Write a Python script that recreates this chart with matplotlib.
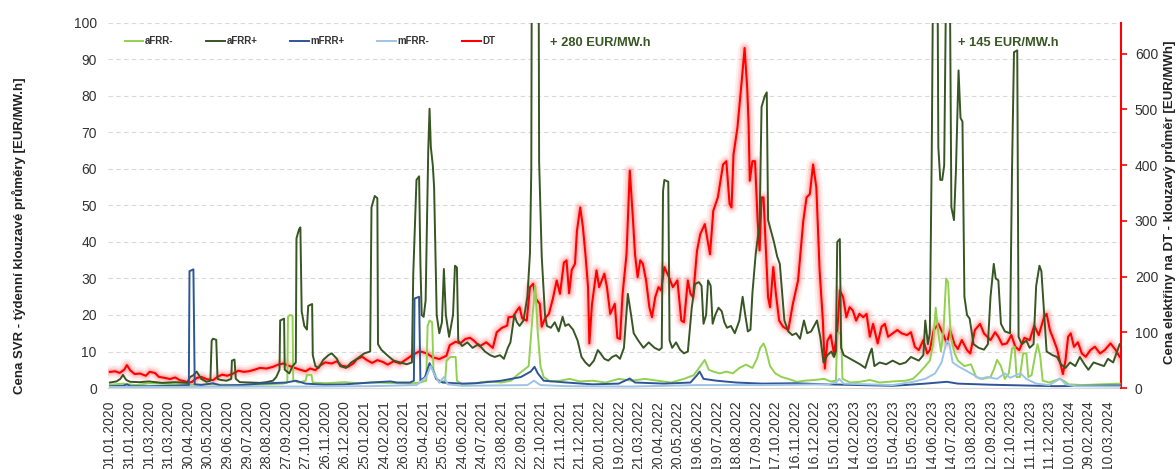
import matplotlib
matplotlib.use("Agg")
import matplotlib.pyplot as plt
import pandas as pd

plt.rcParams['font.family'] = ['Liberation Sans', 'DejaVu Sans']

# Days counted from 01.01.2020, values are weekly moving averages
afrr_minus_days = [0, 20, 40, 60, 90, 120, 150, 200, 240, 265, 272, 273, 276, 280, 281, 290, 300, 302, 309, 311,
                   330, 360, 380, 400, 430, 460, 475, 485, 487, 490, 494, 496, 500, 505, 514, 516, 522, 530, 532,
                   540, 560, 580, 600, 615, 624, 635, 642, 648, 652, 656, 660, 665, 675, 690, 705, 720, 740, 760,
                   780, 800, 820, 840, 860, 880, 895, 905, 912, 918, 925, 935, 945, 955, 965, 975, 985, 992, 997,
                   1002, 1005, 1012, 1020, 1030, 1040, 1053, 1065, 1080, 1095, 1105, 1113, 1115, 1121, 1123, 1135,
                   1150, 1165, 1180, 1200, 1220, 1231, 1240, 1250, 1257, 1262, 1266, 1270, 1274, 1278, 1282, 1285,
                   1289, 1295, 1300, 1310, 1320, 1328, 1338, 1350, 1355, 1360, 1366, 1372, 1378, 1383, 1387, 1390,
                   1395, 1400, 1405, 1408, 1413, 1418, 1422, 1426, 1430, 1434, 1440, 1456, 1462, 1470, 1490, 1520,
                   1548]
afrr_minus = [0.9, 1.2, 0.8, 1.3, 1.1, 0.9, 1.0, 0.8, 1.0, 1.2, 1.5, 19.5, 20.0, 19.8, 2.0, 1.5, 2.0, 3.6, 3.6, 1.5,
              1.3, 1.6, 1.3, 1.5, 1.4, 1.2, 1.5, 2.0, 17.0, 18.5, 18.0, 5.0, 3.0, 1.5, 2.0, 7.5, 8.5, 8.5, 2.0,
              1.0, 1.3, 1.8, 1.5, 2.0, 3.5, 5.0, 6.0, 20.0, 28.0, 15.0, 6.0, 3.0, 1.8, 2.0, 2.5, 1.8, 2.0, 1.5,
              2.5, 2.0, 2.5, 2.0, 1.5, 2.5, 3.5, 6.0, 7.7, 5.0, 4.5, 4.0, 4.5, 4.0, 5.5, 6.4, 5.5, 8.0, 11.0,
              12.2, 11.0, 6.0, 4.0, 3.0, 2.5, 1.7, 2.0, 2.2, 2.5, 1.8, 2.0, 15.0, 15.0, 2.5, 1.5,
              1.7, 2.2, 1.5, 1.8, 2.0, 2.5, 4.0, 6.0, 7.5, 12.0, 22.0, 15.0, 10.0, 16.0, 30.0, 29.0,
              14.0, 9.5, 7.5, 6.0, 6.5, 3.0, 2.5, 3.0, 5.0, 7.7, 6.0, 2.5, 4.0, 10.8, 11.3, 3.0,
              3.0, 9.5, 9.5, 3.0, 3.5, 8.5, 12.0, 9.0, 2.0, 1.8, 1.5, 2.5, 2.0, 1.0, 0.8, 1.0,
              1.2]

afrr_plus_days = [0, 10, 16, 20, 25, 31, 46, 60, 80, 100, 118, 123, 128, 133, 140, 148, 154, 156, 158, 163, 165, 170,
                  179, 186, 187, 191, 193, 199, 215, 230, 240, 250, 255, 260, 261, 267, 268, 275, 280, 285, 286,
                  290, 292, 294, 298, 302, 304, 310, 311, 315, 320, 327, 335, 340, 348, 353, 362, 370, 379, 390,
                  399, 401, 406, 410, 411, 416, 425, 435, 445, 455, 463, 465, 470, 474, 476, 478, 481, 484, 488,
                  490, 492, 495, 497, 501, 505, 509, 512, 515, 520, 526, 529, 532, 534, 540, 548, 556, 565, 575,
                  583, 590, 598, 604, 610, 614, 620, 624, 628, 634, 640, 644, 646, 649, 655, 658, 662, 667, 670,
                  676, 682, 688, 694, 698, 703, 710, 717, 723, 729, 735, 742, 748, 752, 758, 764, 770, 776, 782,
                  788, 794, 799, 803, 810, 818, 826, 835, 842, 846, 848, 850, 856, 858, 862, 868, 874, 880, 886,
                  892, 897, 903, 907, 910, 914, 917, 921, 924, 928, 933, 938, 942, 946, 952, 958, 965, 970, 974,
                  978, 982, 985, 990, 996, 999, 1004, 1007, 1009, 1012, 1018, 1023, 1027, 1034, 1040, 1046, 1052,
                  1058, 1064, 1069, 1075, 1081, 1084, 1089, 1094, 1100, 1106, 1110, 1113, 1115, 1119, 1121, 1125,
                  1130, 1140, 1150, 1158, 1165, 1168, 1172, 1180, 1190, 1200, 1211, 1220, 1228, 1234, 1240, 1247,
                  1250, 1254, 1257, 1260, 1263, 1268, 1270, 1273, 1276, 1279, 1283, 1287, 1290, 1294, 1297, 1301,
                  1304, 1307, 1310, 1314, 1318, 1324, 1332, 1340, 1346, 1350, 1355, 1358, 1362, 1366, 1372, 1380,
                  1383, 1386, 1391, 1393, 1398, 1405, 1410, 1416, 1420, 1425, 1428, 1432, 1436, 1445, 1452, 1458,
                  1465, 1472, 1480, 1487, 1494, 1500, 1508, 1516, 1524, 1530, 1538, 1544, 1548]
afrr_plus = [1.5, 1.8, 2.5, 3.6, 2.2, 1.7, 1.6, 1.8, 1.4, 1.6, 1.4, 3.0, 3.5, 4.5, 2.5, 1.7, 2.0, 13.0, 13.5, 13.2, 2.5, 2.2,
             2.0, 2.5, 7.5, 7.8, 2.5, 1.6, 1.5, 1.4, 1.6, 2.0, 3.0, 5.0, 18.5, 19.0, 5.0, 4.0, 6.0, 7.0, 41.0,
             43.5, 44.0, 21.0, 17.0, 16.0, 22.5, 23.0, 9.0, 6.0, 5.5, 7.7, 9.0, 9.5, 8.0, 6.0, 5.5, 7.0, 8.0, 9.5,
             10.0, 49.5, 52.6, 52.0, 12.0, 10.5, 9.0, 7.5, 7.0, 6.5, 7.0, 31.0, 57.0, 58.0, 34.0, 20.0, 19.5, 24.0, 65.0,
             76.5, 66.0, 61.0, 55.0, 20.0, 15.0, 18.0, 32.6, 20.0, 14.0, 20.0, 33.5, 33.0, 13.0, 11.5, 12.5, 11.0, 12.0, 10.0,
             9.0, 8.5, 9.0, 8.0, 11.0, 12.5, 20.0, 18.0, 17.0, 18.5, 25.0, 37.0, 60.0, 280.0, 280.0, 62.0, 36.0, 20.0, 17.0,
             16.5, 18.0, 15.5, 19.5, 17.0, 17.5, 16.0, 13.0, 8.5, 7.0, 6.0, 7.5, 10.4, 9.5, 8.0, 7.5, 8.5, 9.0, 8.0,
             11.0, 25.8, 20.0, 15.0, 13.0, 11.0, 12.5, 11.0, 10.4, 11.0, 54.0, 57.0, 56.5, 13.0, 11.0, 12.5, 10.5, 9.5, 10.0,
             22.0, 28.5, 29.0, 28.0, 17.6, 20.0, 29.5, 28.0, 17.6, 20.0, 22.0, 21.0, 18.0, 16.5, 17.0, 15.0, 18.5, 25.0, 20.0,
             15.5, 16.0, 26.0, 36.7, 45.0, 77.0, 80.0, 81.0, 46.0, 44.0, 40.0, 36.0, 34.0, 18.5, 15.5, 14.5, 15.0,
             13.5, 18.5, 15.0, 15.5, 17.5, 18.5, 14.0, 7.0, 9.0, 10.0, 8.5, 10.0, 40.0, 40.8, 11.0, 9.0,
             8.5, 7.5, 6.5, 5.5, 9.5, 10.8, 6.0, 7.0, 6.5, 7.5, 6.5, 7.0, 8.5, 8.0, 7.5, 9.0,
             18.5, 12.0, 15.0, 66.0, 140.0, 145.0, 66.0, 57.0, 57.0, 61.0, 130.0, 130.0, 49.5, 46.0, 59.5, 87.0,
             74.0, 73.0, 25.0, 20.0, 19.0, 12.0, 11.0, 10.5, 12.0, 25.0, 34.0, 30.0, 29.5, 17.6, 15.5, 15.0,
             60.0, 92.0, 92.5, 14.0, 12.0, 13.0, 11.0, 12.0, 28.0, 33.5, 32.0, 21.0, 10.0, 9.0, 8.5, 6.5,
             5.5, 7.0, 6.0, 8.5, 6.5, 5.0, 7.0, 6.5, 6.0, 8.0, 7.0, 10.0, 12.0]

mfrr_plus_days = [0, 20, 26, 32, 60, 100, 121, 122, 128, 130, 140, 158, 170, 200, 230, 270, 285, 300, 330, 360, 400,
                  430, 440, 460, 466, 467, 474, 476, 483, 490, 495, 500, 510, 540, 560, 600, 630, 645, 651, 656, 665,
                  700, 740, 780, 797, 805, 850, 890, 900, 904, 910, 930, 960, 1000, 1050, 1100, 1150, 1200, 1250,
                  1283, 1300, 1350, 1400, 1450, 1500, 1548]
mfrr_plus = [0.5, 0.6, 1.0, 0.5, 0.5, 0.6, 0.8, 32.0, 32.5, 1.0, 0.8, 1.3, 0.7, 0.8, 1.2, 1.5, 2.0, 1.2, 0.9, 1.0, 1.5,
             1.8, 1.5, 1.5, 2.0, 24.5, 25.0, 2.0, 3.0, 6.8, 5.0, 2.5, 1.5, 1.2, 1.3, 2.0, 3.0, 4.5, 5.8, 4.0, 2.0,
             1.5, 1.0, 1.2, 2.6, 1.5, 1.2, 1.5, 3.5, 4.5, 2.5, 2.0, 1.5, 1.2, 1.3, 1.0, 0.8, 0.6, 1.2,
             1.7, 1.2, 0.9, 0.7, 0.5, 0.6, 0.7]

mfrr_minus_days = [0, 100, 200, 300, 400, 470, 485, 492, 498, 505, 512, 518, 540, 640, 650, 660, 700, 800, 900, 1000,
                   1100, 1113, 1118, 1125, 1200, 1231, 1250, 1265, 1275, 1283, 1287, 1292, 1300, 1310, 1325, 1334,
                   1345, 1360, 1372, 1380, 1396, 1405, 1420, 1440, 1457, 1465, 1480, 1548]
mfrr_minus = [0.3, 0.3, 0.4, 0.4, 0.5, 0.8, 3.0, 6.0, 3.5, 1.5, 3.0, 1.0, 0.6, 0.8, 2.0, 0.8, 0.5, 0.4, 0.8, 0.8,
              1.0, 1.5, 2.5, 1.2, 0.8, 1.7, 2.5, 4.0, 7.0, 13.0, 12.0, 7.0, 6.0, 5.0, 3.5, 2.5,
              3.0, 2.5, 4.0, 2.8, 4.0, 2.5, 1.2, 0.8, 2.6, 1.0, 0.5, 0.4]

dt_days = [0, 8, 15, 22, 26, 31, 38, 46, 55, 61, 69, 75, 85, 92, 100, 107, 115, 120, 126, 133, 140, 148, 158, 165,
           172, 180, 189, 197, 205, 213, 222, 230, 240, 250, 258, 266, 272, 281, 291, 300, 307, 315, 322, 330,
           340, 348, 355, 365, 373, 379, 387, 394, 402, 410, 418, 426, 435, 445, 455, 465, 475, 486, 495, 505,
           516, 521, 530, 537, 545, 552, 558, 567, 577, 587, 593, 601, 609, 611, 618, 624, 628, 632, 639, 644,
           649, 653, 659, 662, 667, 673, 679, 685, 690, 696, 700, 704, 708, 713, 716, 721, 725, 729, 733, 735,
           739, 746, 750, 754, 758, 762, 767, 774, 778, 782, 786, 792, 797, 802, 805, 809, 813, 817, 822, 827,
           831, 836, 841, 845, 850, 857, 863, 870, 876, 880, 886, 890, 894, 900, 905, 912, 920, 925, 932, 940,
           945, 950, 953, 956, 962, 969, 973, 977, 979, 981, 985, 989, 993, 996, 999, 1002, 1006, 1009, 1012,
           1017, 1021, 1026, 1032, 1040, 1047, 1055, 1063, 1068, 1073, 1078, 1083, 1088, 1093, 1096, 1100, 1105,
           1110, 1115, 1119, 1124, 1129, 1134, 1139, 1144, 1149, 1155, 1160, 1165, 1170, 1177, 1183, 1188, 1193,
           1200, 1207, 1214, 1222, 1228, 1234, 1240, 1247, 1253, 1257, 1263, 1270, 1277, 1283, 1288, 1295, 1300,
           1306, 1314, 1319, 1326, 1334, 1340, 1350, 1357, 1362, 1368, 1375, 1382, 1388, 1394, 1402, 1410, 1417,
           1424, 1432, 1436, 1441, 1447, 1452, 1457, 1461, 1465, 1469, 1473, 1478, 1484, 1490, 1496, 1503, 1510,
           1518, 1525, 1534, 1542, 1548]
dt_price = [29, 30, 27, 33, 41, 32, 25, 26, 22, 29, 27, 20, 18, 16, 19, 14, 12, 9, 11, 18, 20, 16, 14, 20,
            24, 22, 26, 31, 29, 30, 33, 36, 35, 38, 42, 44, 41, 37, 33, 30, 35, 32, 40, 46,
            44, 48, 40, 38, 44, 52, 56, 50, 45, 50, 47, 42, 48, 44, 52, 60, 66, 62, 55, 52,
            58, 77, 83, 80, 88, 90, 85, 75, 82, 72, 100, 108, 112, 127, 128, 139, 145, 125, 121, 181,
            187, 160, 151, 110, 125, 133, 160, 193, 169, 225, 229, 170, 212, 223, 282, 324, 290, 240, 181, 80,
            150, 211, 181, 193, 205, 181, 133, 151, 90, 88, 169, 240, 390, 300, 240, 199, 229, 223, 193, 145,
            127, 163, 181, 175, 217, 199, 181, 193, 121, 118, 193, 169, 163, 246, 276, 294, 240, 318, 342, 401,
            407, 330, 324, 419, 467, 556, 610, 538, 479, 372, 407, 407, 300, 247, 342, 342, 240, 163, 145,
            217, 169, 121, 110, 104, 151, 193, 300, 342, 348, 401, 360, 211, 121, 35, 85, 95,
            62, 100, 175, 163, 127, 145, 139, 121, 133, 127, 133, 92, 115, 80, 110, 115, 92,
            98, 104, 98, 95, 100, 74, 68, 86, 62, 68, 104, 115, 98, 80, 104, 78, 70,
            86, 68, 62, 104, 115, 98, 86, 100, 92, 78, 80, 95, 74, 68, 90, 86, 112,
            95, 127, 133, 104, 86, 70, 45, 25, 50, 92, 98, 74, 82, 62, 56, 68, 74,
            62, 68, 80, 68, 56]

# Category labels every 30 days, as in the source spreadsheet
tick_dates = pd.date_range("2020-01-01", "2024-03-10", freq="30D")
tick_days = [(d - tick_dates[0]).days for d in tick_dates]
tick_labels = [d.strftime("%d.%m.%Y") for d in tick_dates]

text_col = '#333333'
grid_col = '#d9d9d9'

fig = plt.figure(figsize=(11.76, 4.69), dpi=100)
rect = [0.0918, 0.1727, 0.8614, 0.7783]

# bottom layer: grid, left scale and dates
ax_grid = fig.add_axes(rect)
ax_grid.set_xlim(-3, 1550)
ax_grid.set_ylim(0, 100)
ax_grid.set_yticks(range(0, 101, 10))
ax_grid.yaxis.grid(True, color=grid_col, linestyle=(0, (4, 3)), linewidth=0.8)
ax_grid.set_xticks(tick_days)
ax_grid.set_xticklabels(tick_labels, rotation=90, fontsize=10, color=text_col)
ax_grid.tick_params(axis='x', length=0, pad=9)
ax_grid.tick_params(axis='y', length=0, pad=8, labelsize=10, labelcolor=text_col)
for side in ['top', 'left', 'right']:
    ax_grid.spines[side].set_visible(False)
ax_grid.spines['bottom'].set_color(grid_col)

# middle layer: DT price on the right scale, red with a soft pink glow
ax_dt = ax_grid.twinx()
ax_dt.set_zorder(1)
ax_dt.set_ylim(0, 655)
ax_dt.set_yticks(range(0, 601, 100))
ax_dt.plot(dt_days, dt_price, color='#ff8080', lw=9, alpha=0.13, solid_joinstyle='round')
ax_dt.plot(dt_days, dt_price, color='#ff7070', lw=6, alpha=0.18, solid_joinstyle='round')
ax_dt.plot(dt_days, dt_price, color='#ff5050', lw=3.5, alpha=0.22, solid_joinstyle='round')
dt_line, = ax_dt.plot(dt_days, dt_price, color='#ff0000', lw=1.5, label='DT')
ax_dt.tick_params(axis='y', colors='#ff0000', length=4, width=1.2, pad=6, labelsize=10, labelcolor=text_col)
for side in ['top', 'left', 'bottom']:
    ax_dt.spines[side].set_visible(False)
ax_dt.spines['right'].set_color('#ff0000')
ax_dt.spines['right'].set_linewidth(1.5)

# top layer: SVR prices on the left scale
ax = fig.add_axes(rect, sharex=ax_grid, sharey=ax_grid)
ax.set_zorder(2)
ax.patch.set_visible(False)
ax.axis('off')
l1, = ax.plot(afrr_minus_days, afrr_minus, color='#92d050', lw=1.4, label='aFRR-')
l2, = ax.plot(afrr_plus_days, afrr_plus, color='#375623', lw=1.4, label='aFRR+')
l3, = ax.plot(mfrr_plus_days, mfrr_plus, color='#2f5597', lw=1.4, label='mFRR+')
l4, = ax.plot(mfrr_minus_days, mfrr_minus, color='#9dc3e6', lw=1.4, label='mFRR-')

leg = ax.legend(handles=[l1, l2, l3, l4, dt_line], ncol=5, frameon=False,
                loc='upper left', bbox_to_anchor=(125 / 1176, 1 - 36 / 469), bbox_transform=fig.transFigure,
                borderpad=0, borderaxespad=0, handlelength=1.9, handletextpad=0.15, columnspacing=3.4,
                prop={'size': 7, 'weight': 'bold'})
for t in leg.get_texts():
    t.set_color(text_col)

# values of the two clipped aFRR+ peaks
ax.text(675, 94.5, '+ 280 EUR/MW.h', fontsize=9.3, fontweight='bold', color='#375623', va='center')
ax.text(1300, 94.5, '+ 145 EUR/MW.h', fontsize=9.3, fontweight='bold', color='#375623', va='center')

fig.text(19 / 1176, 1 - 236 / 469, 'Cena SVR - týdenní klouzavé průměry [EUR/MW.h]',
         rotation=90, ha='center', va='center', fontsize=9.5, fontweight='bold', color='#222222')
fig.text(1169 / 1176, 1 - 202 / 469, 'Cena elektřiny na DT - klouzavý průměr [EUR/MWh]',
         rotation=90, ha='center', va='center', fontsize=9.5, fontweight='bold', color='#222222')

fig.savefig('out.png', dpi=100)
